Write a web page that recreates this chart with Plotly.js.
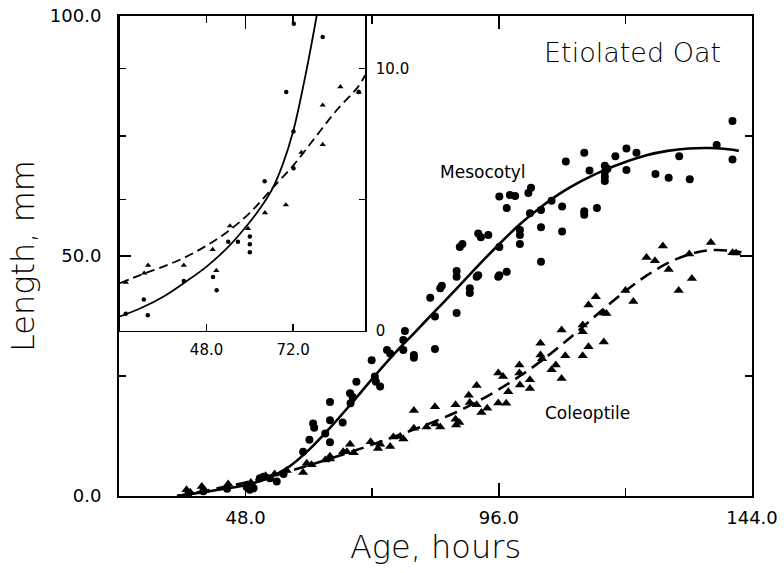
<!DOCTYPE html>
<html>
<head>
<meta charset="utf-8">
<script src="https://cdn.plot.ly/plotly-3.0.1.min.js"></script>
<style>html,body{margin:0;padding:0;background:#fff;}#chart{width:784px;height:573px;}</style>
</head>
<body>
<div id="chart"></div>
<script>
// ---- Main panel data (Age in hours, Length in mm) ----
var mesoX = [37.2,40.0,44.5,48.2,48.8,49.5,50.7,51.4,52.6,53.9,55.2,58.9,60.1,60.8,61.0,63.1,64.0,64.0,64.0,66.4,67.8,67.9,68.3,69.0,71.9,72.5,72.7,73.5,74.8,75.4,77.9,77.9,78.2,79.9,79.9,83.9,83.0,83.9,84.9,85.2,88.0,88.0,88.0,88.6,89.1,90.5,90.5,91.8,92.1,92.6,92.1,94.0,95.9,96.1,96.1,96.1,97.5,97.5,98.1,99.1,100.0,100.0,100.0,101.6,102.1,101.9,104.0,104.0,104.0,106.0,108.0,108.0,108.7,112.2,112.2,112.2,113.2,114.6,116.1,116.1,116.1,116.1,116.6,118.1,120.2,120.2,122.1,125.7,128.2,130.2,132.2,137.3,140.3,140.3];
var mesoY = [0.6,1.0,1.5,1.9,1.3,1.6,3.7,4.0,3.7,3.0,4.6,9.2,11.7,15.1,14.2,13.0,15.8,19.6,11.2,15.3,21.4,19.3,20.6,23.8,28.3,24.9,23.8,22.8,30.4,29.7,30.4,32.5,34.4,29.4,28.8,30.6,41.3,37.4,43.3,43.8,45.7,46.9,38.1,51.9,52.5,43.3,42.3,45.7,54.7,53.9,46.0,54.4,45.7,62.4,51.9,46.0,60.0,46.7,62.7,62.5,55.4,54.4,52.5,63.1,64.2,58.9,59.6,56.0,48.8,61.5,60.3,55.1,69.7,71.5,59.3,58.6,67.8,60.0,68.8,67.5,66.5,65.6,68.2,70.8,72.4,67.9,71.5,67.1,66.3,70.8,66.0,73.1,78.1,70.1];

var coleX = [36.8,37.5,39.7,40.2,44.7,49.0,51.8,53.5,55.8,58.9,59.6,60.5,63.1,64.0,64.0,66.5,67.2,67.8,68.5,71.7,73.1,73.5,75.4,76.0,77.3,77.9,79.9,79.9,82.3,83.9,84.0,84.9,87.8,87.8,87.9,88.5,90.3,90.5,91.8,91.8,92.7,93.8,95.9,95.9,96.8,97.4,97.8,99.9,99.9,100.0,101.9,101.9,103.9,103.9,104.2,106.0,106.8,107.9,107.9,108.6,111.9,111.9,111.9,113.0,113.0,114.4,115.9,116.4,115.9,120.0,121.5,124.0,125.6,127.1,128.2,130.1,132.1,132.6,136.2,140.3,141.0];
var coleY = [1.3,0.8,2.0,1.2,2.5,2.8,4.2,4.6,5.3,4.9,6.8,6.5,7.5,8.3,7.7,9.2,9.2,10.8,9.0,11.3,9.9,10.8,10.3,12.3,12.4,11.9,17.8,14.1,14.4,18.6,15.0,14.4,19.0,16.0,14.8,15.3,21.0,19.5,23.0,19.0,17.4,18.3,25.6,19.4,24.9,19.3,21.7,27.3,25.6,23.1,24.2,22.4,31.8,29.4,28.6,26.3,27.3,34.6,24.5,29.2,35.6,34.2,29.2,39.8,31.1,41.5,38.1,38.0,32.1,42.8,40.5,49.7,49.0,52.1,47.2,42.8,50.4,45.3,52.8,50.7,50.6];

// fitted curves
var mesoFitX = [35,40,44,48,52,56,60,64,68,72,76,80,84,88,92,96,100,104,108,112,116,120,124,128,132,136,140,141.5];
var mesoFitY = [0,0.8,1.5,2.3,3.6,5.9,9.6,14.2,19.2,24.4,29.4,34.0,38.6,43.2,47.9,52.4,56.6,60.2,63.3,65.8,67.9,69.6,71.0,71.9,72.4,72.5,72.2,71.9];
var coleFitX = [35,40,44,48,52,56,60,64,68,72,76,80,84,88,92,96,100,104,108,112,116,120,124,128,132,136,140,142];
var coleFitY = [0,1.0,1.9,2.8,3.9,5.1,6.4,7.8,9.2,10.7,12.3,13.9,15.6,17.5,19.7,22.2,25.0,28.1,31.6,35.3,39.1,42.7,45.9,48.5,50.3,51.2,51.1,50.8];

// ---- Inset data ----
var inMesoX = [25.6,30.6,31.7,41.7,49.8,50.8,54.0,56.7,60.0,60.0,60.0,64.1,70.1,72.1,72.1,72.2,80.2,90.2];
var inMesoY = [0.65,1.2,0.6,1.9,2.05,1.55,3.4,3.4,3.6,3.3,3.0,5.7,9.1,6.2,7.6,11.7,11.2,9.1];
var inColeX = [25.6,30.7,31.8,41.7,49.7,50.7,54.5,59.5,64.2,70.0,74.3,80.2,80.2,85.1,90.2];
var inColeY = [1.85,2.2,2.5,2.5,3.1,2.3,4.0,3.9,4.5,4.8,6.8,7.1,8.6,9.3,9.1];
var inMesoFitX = [24,30,36,42,48,54,60,63,66,69,72,75,78,81];
var inMesoFitY = [0.55,0.88,1.3,1.85,2.45,3.2,4.15,4.7,5.35,6.3,7.6,9.45,11.6,14.0];
var inColeFitX = [24,30,36,42,48,54,60,66,72,78,84,90,92];
var inColeFitY = [1.82,2.15,2.45,2.8,3.25,3.8,4.5,5.4,6.3,7.35,8.4,9.3,9.75];

var FONT = 'DejaVu Sans, Arial, sans-serif';

var traces = [
  {x: mesoX, y: mesoY, type: 'scatter', mode: 'markers', name: 'Mesocotyl',
   marker: {symbol: 'circle', size: 8, color: '#000'}, xaxis: 'x', yaxis: 'y'},
  {x: coleX, y: coleY, type: 'scatter', mode: 'markers', name: 'Coleoptile',
   marker: {symbol: 'triangle-up', size: 9, color: '#000'}, xaxis: 'x', yaxis: 'y'},
  {x: mesoFitX, y: mesoFitY, type: 'scatter', mode: 'lines', name: 'Mesocotyl fit',
   line: {color: '#000', width: 2.6, shape: 'spline', smoothing: 1}, xaxis: 'x', yaxis: 'y'},
  {x: coleFitX, y: coleFitY, type: 'scatter', mode: 'lines', name: 'Coleoptile fit',
   line: {color: '#000', width: 2.6, dash: '13px,7px', shape: 'spline', smoothing: 1}, xaxis: 'x', yaxis: 'y'},
  {x: inMesoX, y: inMesoY, type: 'scatter', mode: 'markers', name: 'Mesocotyl (inset)',
   marker: {symbol: 'circle', size: 4.5, color: '#000'}, xaxis: 'x2', yaxis: 'y2'},
  {x: inColeX, y: inColeY, type: 'scatter', mode: 'markers', name: 'Coleoptile (inset)',
   marker: {symbol: 'triangle-up', size: 5.5, color: '#000'}, xaxis: 'x2', yaxis: 'y2'},
  {x: inMesoFitX, y: inMesoFitY, type: 'scatter', mode: 'lines', name: 'Mesocotyl fit (inset)',
   line: {color: '#000', width: 1.8, shape: 'spline', smoothing: 1}, xaxis: 'x2', yaxis: 'y2'},
  {x: inColeFitX, y: inColeFitY, type: 'scatter', mode: 'lines', name: 'Coleoptile fit (inset)',
   line: {color: '#000', width: 1.8, dash: '9px,5px', shape: 'spline', smoothing: 1}, xaxis: 'x2', yaxis: 'y2'}
];

var layout = {
  width: 784, height: 573,
  margin: {l: 119, r: 32, t: 16, b: 77, pad: 0},
  paper_bgcolor: '#fff', plot_bgcolor: 'rgba(0,0,0,0)',
  showlegend: false,
  font: {family: FONT, color: '#000'},
  xaxis: {
    domain: [0, 1], anchor: 'y',
    range: [24, 144], tick0: 0, dtick: 48, tickformat: '.1f',
    ticks: 'inside', ticklen: 13, tickwidth: 1.5, tickcolor: '#000',
    showline: true, linewidth: 2, linecolor: '#000', mirror: 'ticks',
    showgrid: false, zeroline: false,
    minor: {tick0: 0, dtick: 24, ticks: 'inside', ticklen: 8, tickwidth: 1.5, tickcolor: '#000', showgrid: false},
    tickfont: {family: FONT, size: 18, color: '#000'},
    ticklabelstandoff: 4,
    title: {text: 'Age, hours', font: {family: FONT, size: 32, weight: 200, color: '#000'}, standoff: 8}
  },
  yaxis: {
    domain: [0, 1], anchor: 'x',
    range: [0, 100], tick0: 0, dtick: 50, tickformat: '.1f',
    ticks: 'inside', ticklen: 12, tickwidth: 1.5, tickcolor: '#000',
    showline: true, linewidth: 2, linecolor: '#000', mirror: 'ticks',
    showgrid: false, zeroline: false,
    minor: {tick0: 0, dtick: 25, ticks: 'inside', ticklen: 7, tickwidth: 1.5, tickcolor: '#000', showgrid: false},
    tickfont: {family: FONT, size: 18, color: '#000'},
    ticklabelstandoff: 12,
    title: {text: 'Length, mm', font: {family: FONT, size: 32, weight: 200, color: '#000'}, standoff: 6}
  },
  xaxis2: {
    domain: [0.0016, 0.389], anchor: 'y2',
    range: [24, 92], tickvals: [48, 72], tickformat: '.1f',
    ticks: 'inside', ticklen: 7, tickwidth: 1.3, tickcolor: '#000',
    showline: true, linewidth: 1.6, linecolor: '#000', mirror: 'ticks',
    showgrid: false, zeroline: false,
    tickfont: {family: FONT, size: 15, color: '#000'},
    ticklabelstandoff: 5
  },
  yaxis2: {
    domain: [0.344, 1], anchor: 'x2', side: 'right',
    range: [0, 12], tickvals: [0, 5, 10], ticktext: ['0', '', '10.0'],
    ticks: 'inside', ticklen: 6, tickwidth: 1.3, tickcolor: '#000',
    showline: true, linewidth: 1.6, linecolor: '#000', mirror: 'ticks',
    showgrid: false, zeroline: false,
    tickfont: {family: FONT, size: 15, color: '#000'},
    ticklabelstandoff: 6
  },
  annotations: [
    {text: 'Etiolated Oat', xref: 'x', yref: 'y', x: 121.4, y: 92.5, showarrow: false,
     font: {family: FONT, size: 27, weight: 200, color: '#000'}},
    {text: 'Mesocotyl', xref: 'x', yref: 'y', x: 93.0, y: 67.5, showarrow: false,
     font: {family: FONT, size: 17, color: '#000'}},
    {text: 'Coleoptile', xref: 'x', yref: 'y', x: 112.9, y: 17.3, showarrow: false,
     font: {family: FONT, size: 17, color: '#000'}}
  ]
};

Plotly.newPlot('chart', traces, layout, {staticPlot: true, displayModeBar: false});
</script>
</body>
</html>
